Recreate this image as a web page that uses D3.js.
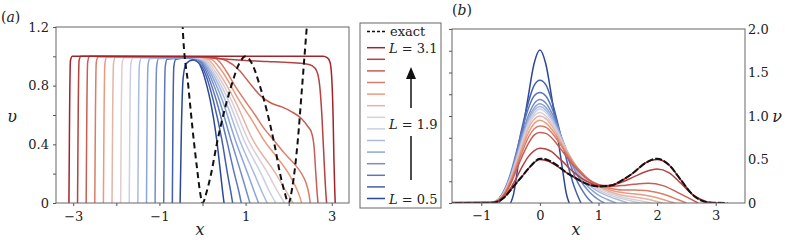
<!DOCTYPE html>
<html>
<head>
<meta charset="utf-8">
<script src="https://cdn.jsdelivr.net/npm/d3@7"></script>
<style>
  body { margin: 0; background: #fff; }
</style>
</head>
<body>
<script>
// L values of the runs, smallest first
var Ls = [0.5, 0.7, 0.9, 1.1, 1.3, 1.5, 1.7, 1.9, 2.1, 2.3, 2.5, 2.7, 2.9, 3.1];

// panel (a): value function v(x), pairs [x, v]
var vExact = [[-0.5,1.5],[-0.46,1.2],[-0.33,0.8],[-0.2,0.42],[-0.12,0.22],[-0.06,0.08],[0,0],[0.1,0.08],[0.2,0.2],[0.33,0.4],[0.5,0.62],[0.67,0.8],[0.85,0.95],[1,1],[1.15,0.95],[1.33,0.8],[1.5,0.62],[1.67,0.4],[1.8,0.2],[1.9,0.08],[2,0],[2.08,0.1],[2.15,0.25],[2.21,0.42],[2.3,0.75],[2.42,1.2],[2.5,1.5]];
var v05 = [[-0.52,0],[-0.49,0.5],[-0.45,0.85],[-0.38,0.95],[-0.22,0.975],[-0.1,0.96],[0,0.9],[0.1,0.8],[0.18,0.7],[0.33,0.43],[0.42,0.2],[0.47,0.07],[0.5,0]];
var v07 = [[-0.7,0],[-0.685,0.6],[-0.665,0.93],[-0.62,0.98],[-0.35,0.988],[-0.15,0.97],[0.04,0.9],[0.25,0.7],[0.45,0.43],[0.58,0.2],[0.66,0.07],[0.7,0]];
var v09 = [[-0.9,0],[-0.885,0.6],[-0.865,0.93],[-0.82,0.98],[-0.3,0.99],[-0.1,0.975],[0.08,0.9],[0.32,0.7],[0.56,0.43],[0.74,0.2],[0.85,0.07],[0.9,0]];
var v11 = [[-1.1,0],[-1.085,0.6],[-1.065,0.93],[-1.02,0.985],[-0.3,0.99],[-0.07,0.975],[0.12,0.9],[0.39,0.7],[0.66,0.43],[0.9,0.2],[1.03,0.07],[1.1,0]];
var v13 = [[-1.3,0],[-1.285,0.6],[-1.265,0.94],[-1.22,0.985],[-0.3,0.992],[-0.04,0.975],[0.16,0.9],[0.46,0.7],[0.76,0.43],[1.05,0.2],[1.21,0.07],[1.3,0]];
var v15 = [[-1.5,0],[-1.485,0.6],[-1.465,0.94],[-1.42,0.988],[-0.3,0.993],[0,0.975],[0.2,0.9],[0.53,0.7],[0.86,0.43],[1.2,0.2],[1.39,0.07],[1.5,0]];
var v17 = [[-1.7,0],[-1.685,0.6],[-1.665,0.94],[-1.62,0.99],[-0.25,0.994],[0.04,0.975],[0.24,0.9],[0.6,0.7],[0.96,0.43],[1.36,0.2],[1.57,0.07],[1.7,0]];
var v19 = [[-1.9,0],[-1.885,0.6],[-1.865,0.95],[-1.82,0.99],[-0.2,0.995],[0.08,0.975],[0.29,0.9],[0.67,0.7],[1.06,0.43],[1.52,0.2],[1.76,0.07],[1.9,0]];
var v21 = [[-2.1,0],[-2.085,0.6],[-2.065,0.95],[-2.02,0.995],[-0.2,0.997],[0.12,0.98],[0.35,0.9],[0.75,0.7],[1.17,0.43],[1.7,0.2],[1.96,0.07],[2.1,0]];
var v23 = [[-2.3,0],[-2.285,0.6],[-2.265,0.95],[-2.22,0.997],[-0.2,0.998],[0.2,0.98],[0.45,0.9],[0.85,0.7],[1.22,0.53],[1.42,0.43],[1.68,0.33],[2.0,0.2],[2.18,0.1],[2.26,0.04],[2.3,0]];
var v25 = [[-2.5,0],[-2.485,0.6],[-2.465,0.96],[-2.42,0.998],[-0.1,0.998],[0.3,0.985],[0.55,0.9],[0.75,0.8],[0.98,0.7],[1.22,0.6],[1.45,0.5],[1.68,0.42],[1.9,0.34],[2.15,0.26],[2.3,0.2],[2.4,0.14],[2.47,0.06],[2.5,0]];
var v27 = [[-2.7,0],[-2.685,0.6],[-2.665,0.96],[-2.62,1.0],[0,0.998],[0.3,0.99],[0.56,0.97],[0.87,0.9],[1.06,0.83],[1.37,0.725],[1.6,0.68],[1.84,0.655],[2.05,0.625],[2.3,0.575],[2.45,0.52],[2.53,0.48],[2.59,0.38],[2.63,0.2],[2.66,0.07],[2.68,0]];
var v29 = [[-2.9,0],[-2.885,0.6],[-2.865,0.97],[-2.82,1.0],[0,0.995],[0.5,0.982],[1.0,0.972],[1.5,0.965],[2.0,0.958],[2.4,0.948],[2.55,0.935],[2.65,0.9],[2.72,0.8],[2.77,0.6],[2.82,0.3],[2.86,0.08],[2.88,0]];
var v31 = [[-3.1,0],[-3.085,0.6],[-3.065,0.97],[-3.02,1.0],[2.8,1.0],[2.9,0.99],[2.96,0.96],[3.0,0.85],[3.03,0.6],[3.05,0.3],[3.07,0.08],[3.08,0]];
var curvesA = [v05, v07, v09, v11, v13, v15, v17, v19, v21, v23, v25, v27, v29, v31];

// panel (b): density nu(x), pairs [x, nu]
var nuExact = [[-1.6,0],[-0.9,0],[-0.75,0.01],[-0.6,0.07],[-0.45,0.19],[-0.3,0.31],[-0.15,0.43],[0,0.51],[0.15,0.49],[0.3,0.43],[0.45,0.35],[0.6,0.29],[0.8,0.22],[1.0,0.19],[1.2,0.2],[1.4,0.26],[1.6,0.35],[1.8,0.46],[2.0,0.51],[2.2,0.44],[2.4,0.27],[2.6,0.1],[2.75,0.03],[2.9,0.005],[3.2,0]];
var nu05 = [[-0.5,0],[-0.45,0.1],[-0.4,0.3],[-0.3,0.8],[-0.2,1.22],[-0.1,1.6],[0,1.76],[0.1,1.6],[0.2,1.22],[0.3,0.78],[0.4,0.32],[0.45,0.11],[0.5,0]];
var nu07 = [[-0.7,0],[-0.6,0.12],[-0.5,0.3],[-0.4,0.57],[-0.3,0.88],[-0.2,1.15],[-0.1,1.35],[0,1.41],[0.1,1.36],[0.2,1.18],[0.3,0.93],[0.4,0.65],[0.5,0.38],[0.6,0.16],[0.7,0]];
var nu09 = [[-0.9,0],[-0.8,0.01],[-0.7,0.05],[-0.6,0.16],[-0.5,0.34],[-0.4,0.59],[-0.3,0.85],[-0.2,1.08],[-0.1,1.23],[0,1.27],[0.1,1.23],[0.2,1.1],[0.3,0.9],[0.4,0.68],[0.5,0.48],[0.6,0.3],[0.7,0.17],[0.8,0.07],[0.9,0]];
var nu11 = [[-1.1,0],[-0.8,0.01],[-0.7,0.045],[-0.6,0.15],[-0.5,0.32],[-0.4,0.55],[-0.3,0.79],[-0.2,1.0],[-0.1,1.14],[0,1.19],[0.1,1.15],[0.2,1.04],[0.3,0.88],[0.4,0.7],[0.5,0.52],[0.6,0.37],[0.7,0.25],[0.8,0.16],[0.9,0.09],[1.0,0.04],[1.1,0]];
var nu13 = [[-1.3,0],[-0.8,0.01],[-0.7,0.045],[-0.6,0.145],[-0.5,0.31],[-0.4,0.53],[-0.3,0.76],[-0.2,0.96],[-0.1,1.09],[0,1.14],[0.1,1.1],[0.2,1.0],[0.3,0.86],[0.4,0.7],[0.5,0.54],[0.6,0.4],[0.7,0.29],[0.8,0.2],[0.9,0.14],[1.0,0.09],[1.15,0.04],[1.3,0]];
var nu15 = [[-1.5,0],[-0.8,0.01],[-0.7,0.04],[-0.6,0.14],[-0.5,0.3],[-0.4,0.51],[-0.3,0.73],[-0.2,0.93],[-0.1,1.06],[0,1.11],[0.1,1.07],[0.2,0.97],[0.3,0.84],[0.4,0.69],[0.5,0.55],[0.6,0.42],[0.7,0.31],[0.8,0.23],[1.0,0.13],[1.2,0.07],[1.35,0.035],[1.5,0]];
var nu17 = [[-1.7,0],[-0.8,0.01],[-0.7,0.04],[-0.6,0.135],[-0.5,0.29],[-0.4,0.49],[-0.3,0.71],[-0.2,0.91],[-0.1,1.03],[0,1.08],[0.1,1.04],[0.2,0.95],[0.3,0.82],[0.4,0.68],[0.5,0.55],[0.6,0.43],[0.7,0.33],[0.8,0.25],[1.0,0.15],[1.2,0.09],[1.4,0.05],[1.55,0.025],[1.7,0]];
var nu19 = [[-1.9,0],[-0.8,0.01],[-0.7,0.04],[-0.6,0.13],[-0.5,0.28],[-0.4,0.47],[-0.3,0.69],[-0.2,0.88],[-0.1,1.0],[0,1.04],[0.1,1.0],[0.2,0.92],[0.3,0.8],[0.4,0.67],[0.5,0.55],[0.6,0.44],[0.7,0.34],[0.8,0.27],[1.0,0.17],[1.2,0.11],[1.4,0.07],[1.6,0.04],[1.75,0.02],[1.9,0]];
var nu21 = [[-2.1,0],[-0.8,0.01],[-0.7,0.04],[-0.6,0.125],[-0.5,0.27],[-0.4,0.46],[-0.3,0.66],[-0.2,0.85],[-0.1,0.96],[0,1.0],[0.1,0.97],[0.2,0.89],[0.3,0.78],[0.4,0.66],[0.5,0.55],[0.6,0.44],[0.7,0.35],[0.8,0.28],[1.0,0.19],[1.2,0.13],[1.4,0.09],[1.6,0.07],[1.8,0.05],[1.95,0.025],[2.1,0]];
var nu23 = [[-2.3,0],[-0.8,0.01],[-0.7,0.035],[-0.6,0.12],[-0.5,0.26],[-0.4,0.44],[-0.3,0.63],[-0.2,0.8],[-0.1,0.91],[0,0.95],[0.1,0.92],[0.2,0.85],[0.3,0.75],[0.4,0.64],[0.5,0.54],[0.6,0.44],[0.7,0.36],[0.8,0.29],[1.0,0.2],[1.2,0.15],[1.4,0.12],[1.6,0.105],[1.8,0.09],[2.0,0.06],[2.15,0.03],[2.3,0]];
var nu25 = [[-2.5,0],[-0.8,0.01],[-0.7,0.035],[-0.6,0.11],[-0.5,0.24],[-0.4,0.41],[-0.3,0.59],[-0.2,0.75],[-0.1,0.85],[0,0.885],[0.1,0.87],[0.2,0.81],[0.3,0.72],[0.4,0.62],[0.5,0.52],[0.6,0.43],[0.7,0.36],[0.8,0.29],[1.0,0.21],[1.2,0.17],[1.4,0.15],[1.6,0.15],[1.8,0.145],[2.0,0.12],[2.2,0.08],[2.35,0.04],[2.5,0]];
var nu27 = [[-2.7,0],[-0.8,0.01],[-0.7,0.03],[-0.6,0.1],[-0.5,0.22],[-0.4,0.38],[-0.3,0.54],[-0.2,0.68],[-0.1,0.78],[0,0.81],[0.1,0.8],[0.2,0.75],[0.3,0.67],[0.4,0.58],[0.5,0.49],[0.6,0.41],[0.7,0.34],[0.8,0.28],[1.0,0.21],[1.2,0.19],[1.4,0.2],[1.6,0.215],[1.85,0.226],[2.1,0.2],[2.3,0.14],[2.5,0.07],[2.6,0.035],[2.7,0]];
var nu29 = [[-2.9,0],[-0.85,0],[-0.7,0.025],[-0.6,0.08],[-0.5,0.17],[-0.4,0.29],[-0.3,0.42],[-0.2,0.53],[-0.1,0.6],[0,0.63],[0.1,0.62],[0.2,0.59],[0.3,0.53],[0.4,0.47],[0.5,0.4],[0.6,0.34],[0.7,0.29],[0.8,0.25],[1.0,0.2],[1.2,0.2],[1.4,0.24],[1.6,0.3],[1.8,0.36],[2.0,0.39],[2.2,0.35],[2.4,0.23],[2.6,0.1],[2.75,0.04],[2.9,0]];
var nu31 = [[-3.1,0],[-0.9,0],[-0.75,0.01],[-0.6,0.07],[-0.45,0.19],[-0.3,0.31],[-0.15,0.43],[0,0.5],[0.15,0.48],[0.3,0.42],[0.45,0.35],[0.6,0.29],[0.8,0.22],[1.0,0.19],[1.2,0.2],[1.4,0.26],[1.6,0.35],[1.8,0.46],[2.0,0.5],[2.2,0.44],[2.4,0.27],[2.6,0.1],[2.75,0.03],[2.9,0.005],[3.1,0]];
var curvesB = [nu05, nu07, nu09, nu11, nu13, nu15, nu17, nu19, nu21, nu23, nu25, nu27, nu29, nu31];

// tick labels
var xTicksA = [-3, -1, 1, 3];
var yTicksA = [0, 0.4, 0.8, 1.2];
var xTicksB = [-1, 0, 1, 2, 3];
var yTicksB = [0, 0.5, 1, 1.5, 2];

var serif = "DejaVu Serif";

var colorRamp = d3.scaleLinear()
    .domain([0.5, 1.3, 1.8, 2.3, 3.1])
    .range(["#2b4799", "#8ca6d8", "#d9dbe6", "#eb9a7e", "#a3232b"]);

var svg = d3.select("body").append("svg")
    .attr("width", 785)
    .attr("height", 240)
    .style("font-family", serif);

var fmt = function(d) { return d === 0 ? "0" : d3.format(".1f")(d); };

function styleAxis(g) {
  g.attr("font-family", null).attr("font-size", null);
  g.select(".domain").remove();
  g.selectAll(".tick line").attr("stroke", "#555");
  g.selectAll(".tick text").attr("fill", "#222")
      .style("font-family", serif).style("font-size", "13px");
}

function panel(x, y, curves, exact, clipId) {
  var left = x.range()[0], right = x.range()[1], bottom = y.range()[0], top = y.range()[1];

  svg.append("clipPath").attr("id", clipId)
    .append("rect")
      .attr("x", left).attr("y", top)
      .attr("width", right - left).attr("height", bottom - top);

  var line = d3.line()
      .x(function(d) { return x(d[0]); })
      .y(function(d) { return y(d[1]); })
      .curve(d3.curveMonotoneX);

  var g = svg.append("g").attr("clip-path", "url(#" + clipId + ")");

  g.selectAll(".run")
      .data(curves)
    .enter().append("path")
      .attr("class", "run")
      .attr("d", line)
      .attr("fill", "none")
      .attr("stroke-width", 1.5)
      .attr("stroke", function(d, i) { return colorRamp(Ls[i]); });

  g.append("path")
      .attr("d", line(exact))
      .attr("fill", "none")
      .attr("stroke", "#111")
      .attr("stroke-width", 2)
      .attr("stroke-dasharray", clipId === "clipA" ? "6,4" : "7,2");

  svg.append("rect")
      .attr("x", left).attr("y", top)
      .attr("width", right - left).attr("height", bottom - top)
      .attr("fill", "none").attr("stroke", "#666").attr("stroke-width", 1);
}

// ---- panel (a)
var xA = d3.scaleLinear().domain([-3.4, 3.4]).range([56, 349]);
var yA = d3.scaleLinear().domain([0, 1.2]).range([203, 27]);

panel(xA, yA, curvesA, vExact, "clipA");

svg.append("g")
    .attr("transform", "translate(0,203)")
    .call(d3.axisBottom(xA).tickValues(d3.range(-3, 4)).tickSize(3).tickPadding(6)
      .tickFormat(function(d) { return xTicksA.indexOf(d) >= 0 ? d3.format("d")(d) : ""; }))
    .call(styleAxis);

svg.append("g")
    .attr("transform", "translate(56,0)")
    .call(d3.axisLeft(yA).tickValues([0, 0.2, 0.4, 0.6, 0.8, 1.0, 1.2]).tickSize(3).tickPadding(4)
      .tickFormat(function(d) { return yTicksA.some(function(t) { return Math.abs(t - d) < 1e-9; }) ? fmt(d) : ""; }))
    .call(styleAxis);

// ---- panel (b)
var xB = d3.scaleLinear().domain([-1.5, 3.5]).range([452, 745]);
var yB = d3.scaleLinear().domain([0, 2]).range([203, 29]);

panel(xB, yB, curvesB, nuExact, "clipB");

svg.append("g")
    .attr("transform", "translate(0,203)")
    .call(d3.axisBottom(xB).tickValues(xTicksB).tickSize(3).tickPadding(5).tickFormat(d3.format("d")))
    .call(styleAxis);

svg.append("g")
    .attr("transform", "translate(452,0)")
    .call(d3.axisLeft(yB).tickValues(d3.range(0, 2.01, 0.25)).tickSize(3).tickFormat(""))
    .call(styleAxis);

svg.append("g")
    .attr("transform", "translate(745,0)")
    .call(d3.axisRight(yB).tickValues(yTicksB).tickSize(0).tickPadding(3).tickFormat(fmt))
    .call(styleAxis);

// ---- titles and axis names
function label(txt, px, py, size, italic, anchor) {
  return svg.append("text").attr("x", px).attr("y", py)
      .style("font-family", serif)
      .style("font-size", size + "px")
      .style("font-style", italic ? "italic" : "normal")
      .attr("text-anchor", anchor || "middle")
      .attr("fill", "#222")
      .text(txt);
}

function title(letter, px, py) {
  var t = svg.append("text").attr("x", px).attr("y", py)
      .style("font-family", serif).style("font-size", "14px").attr("fill", "#222");
  t.append("tspan").text("(");
  t.append("tspan").style("font-style", "italic").text(letter);
  t.append("tspan").text(")");
}
title("a", 1, 22);
title("b", 452, 15);

label("υ", 12, 122, 16, true);
label("x", 200, 235, 16, true);
label("x", 576, 235, 16, true);
label("ν", 777, 122, 16, true);

// ---- legend
var legend = svg.append("g");
legend.append("rect")
    .attr("x", 360).attr("y", 23).attr("width", 81).attr("height", 185)
    .attr("fill", "#fff").attr("stroke", "#666").attr("stroke-width", 1);

legend.append("line")
    .attr("x1", 367).attr("x2", 385).attr("y1", 31.5).attr("y2", 31.5)
    .attr("stroke", "#111").attr("stroke-width", 1.5).attr("stroke-dasharray", "3,2");
label("exact", 390, 36, 13, false, "start");

var legendOrder = Ls.slice().reverse();
legend.selectAll(".key")
    .data(legendOrder)
  .enter().append("line")
    .attr("class", "key")
    .attr("x1", 367).attr("x2", 385)
    .attr("y1", function(d, i) { return 47.7 + i * 11.6; })
    .attr("y2", function(d, i) { return 47.7 + i * 11.6; })
    .attr("stroke", function(d) { return colorRamp(d); })
    .attr("stroke-width", 1.5);

[[3.1, 52.5], [1.9, 128.5], [0.5, 204]].forEach(function(p) {
  var t = label("", 389, p[1], 13, false, "start");
  t.append("tspan").style("font-style", "italic").text("L");
  t.append("tspan").text(" = " + p[0].toFixed(1));
});

// arrow from L = 0.5 up to L = 3.1
legend.append("line").attr("x1", 411).attr("x2", 411).attr("y1", 180).attr("y2", 136)
    .attr("stroke", "#111").attr("stroke-width", 1.5);
legend.append("line").attr("x1", 411).attr("x2", 411).attr("y1", 108).attr("y2", 76)
    .attr("stroke", "#111").attr("stroke-width", 1.5);
legend.append("path").attr("d", "M411,67 L406,79 L416,79 Z").attr("fill", "#111");
</script>
</body>
</html>
